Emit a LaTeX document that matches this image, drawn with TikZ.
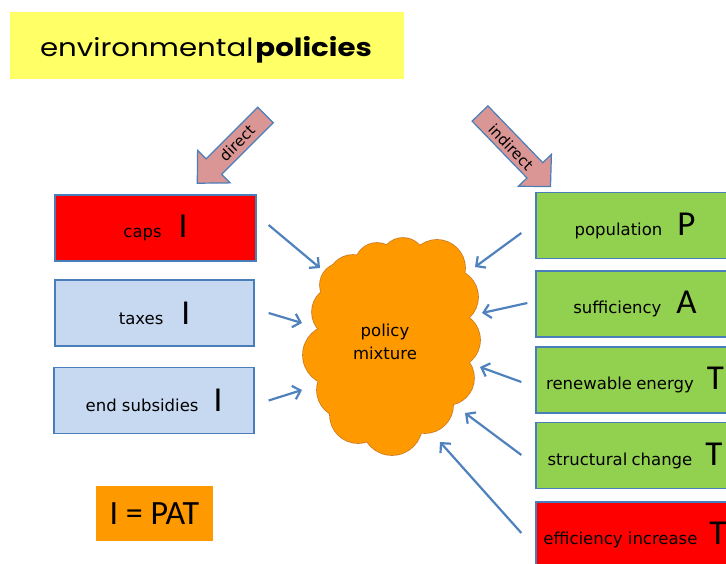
\documentclass[tikz,border=0pt]{standalone}
\usepackage{fontspec}
\setmainfont{DejaVu Sans}
\newfontfamily\bigfont{Carlito}
\newfontfamily\titlefont[FakeStretch=1.17]{Poppins}
\usetikzlibrary{arrows.meta}

\definecolor{titleyellow}{HTML}{FFFF66}
\definecolor{capred}{HTML}{FF0000}
\definecolor{paleblue}{HTML}{C6D9F1}
\definecolor{leafgreen}{HTML}{92D050}
\definecolor{mixorange}{HTML}{FF9900}
\definecolor{mixline}{HTML}{CC7A20}
\definecolor{steelblue}{HTML}{4F81BD}
\definecolor{boxline}{HTML}{4A7EBB}
\definecolor{dustypink}{HTML}{D99694}

% large single letters of the I = PAT identity
\newcommand\patletter[1]{{\bigfont\fontsize{35}{35}\selectfont #1}}
% puffs making up the cloud: centre x / centre y / radius
\newcommand\cloudpuffs{342/278/22, 353/283/25, 377/298/22, 403/303/22, 437/295/28,
  450/266/28, 452/223/28, 447/185/27, 425/158/28, 392/138/30,
  358/148/28, 345/173/28, 333/208/30, 338/251/26}

\begin{document}
\begin{tikzpicture}[x=1pt,y=1pt,
  every node/.style={font=\fontsize{16.5}{20}\selectfont, text=black},
  policybox/.style={draw=boxline, line width=1.3pt, inner sep=0pt,
                    minimum width=200pt, minimum height=66pt},
  capbox/.style={policybox, fill=capred},
  instrbox/.style={policybox, fill=paleblue},
  driverbox/.style={policybox, fill=leafgreen, minimum width=198pt},
  redbox/.style={policybox, fill=capred, minimum width=198pt},
  conn/.style={draw=steelblue, line width=2.2pt,
               -{Straight Barb[length=7pt,width=14pt]}},
  blockarrow/.style={fill=dustypink, draw=boxline, line width=1.2pt, line join=miter},
  arrowlabel/.style={font=\fontsize{15}{18}\selectfont, inner sep=0pt}
]
\path[use as bounding box] (0,0) rectangle (726,563);
\clip (0,0) rectangle (726,563);

% heading
\fill[titleyellow] (10,484) rectangle (404,551);
\node[anchor=base, inner sep=0pt] (title) at (206,506)
  {\titlefont\fontsize{25}{30}\selectfont environmental\hspace{2pt}\textbf{policies}};

% block arrow: direct
\begin{scope}[shift={(265.5,448)}, rotate=225]
  \draw[blockarrow] (0,11) -- (73,11) -- (73,23) -- (96.5,0) -- (73,-23)
        -- (73,-11) -- (0,-11) -- cycle;
\end{scope}
\node[arrowlabel, rotate=45] (directlbl) at (237,420) {direct};

% block arrow: indirect
\begin{scope}[shift={(480,449.5)}, rotate=-46]
  \draw[blockarrow] (0,11) -- (79,11) -- (79,23) -- (101.5,0) -- (79,-23)
        -- (79,-11) -- (0,-11) -- cycle;
\end{scope}
\node[arrowlabel, rotate=-46] (indirectlbl) at (511,416) {indirect};

% direct instruments
\node[capbox, minimum width=201pt] (caps) at (155.5,335)
  {caps\hspace{17pt}\patletter{I}};
\node[instrbox, minimum width=199pt] (taxes) at (154.5,250)
  {taxes\hspace{18pt}\patletter{I}};
\node[instrbox] (subsidies) at (154,162.5)
  {end subsidies\hspace{15pt}\patletter{I}};

% indirect drivers
\node[driverbox] (population) at (635,337.5)
  {population\hspace{15pt}\patletter{P}};
\node[driverbox] (sufficiency) at (635,259)
  {sufficiency\hspace{15pt}\patletter{A}};
\node[driverbox] (renewable) at (635,183)
  {renewable\hspace{-1pt} energy\hspace{13pt}\patletter{T}};
\node[driverbox] (structural) at (635,107.5)
  {structural\hspace{-1pt} change\hspace{13pt}\patletter{T}};
\node[redbox] (efficiency) at (635,28)
  {efficiency increase\hspace{12pt}\patletter{T}};

% the policy mixture: outlined puffs, then filled again to hide inner rims
\foreach \cx/\cy/\r in \cloudpuffs
  \filldraw[fill=mixorange, draw=mixline, line width=1.6pt] (\cx,\cy) circle (\r);
\foreach \cx/\cy/\r in \cloudpuffs
  \fill[mixorange] (\cx,\cy) circle (\r);
\fill[mixorange] (392,218) ellipse (68 and 80);
\coordinate (cloud) at (391.5,216);
\node[align=center, font=\fontsize{16.5}{23}\selectfont] (mixlbl) at (385,221)
  {policy\\mixture};

% identity
\node[fill=mixorange, minimum width=117pt, minimum height=55pt, inner sep=0pt]
  (ipat) at (154.5,49.5) {\bigfont\fontsize{34}{34}\selectfont I = PAT};

% connectors into the mixture, ending on its rim
\draw[conn] ([shift={(12,3)}]caps.east) -- ([shift={(-71.5,79)}]cloud);
\draw[conn] ([shift={(14,0)}]taxes.east) -- ([shift={(-89.5,24)}]cloud);
\draw[conn] ([shift={(14,0)}]subsidies.east) -- ([shift={(-89.5,-43)}]cloud);
\draw[conn] ([shift={(-14,-7.5)}]population.west) -- ([shift={(83.5,80)}]cloud);
\draw[conn] ([shift={(-8,1)}]sufficiency.west) -- ([shift={(90.5,34)}]cloud);
\draw[conn] ([shift={(-14,-2)}]renewable.west) -- ([shift={(88.5,-20)}]cloud);
\draw[conn] ([shift={(-14,0.5)}]structural.west) -- ([shift={(73.5,-66)}]cloud);
\draw[conn] ([shift={(-14,2)}]efficiency.west) -- ([shift={(48.5,-95)}]cloud);
\end{tikzpicture}
\end{document}
